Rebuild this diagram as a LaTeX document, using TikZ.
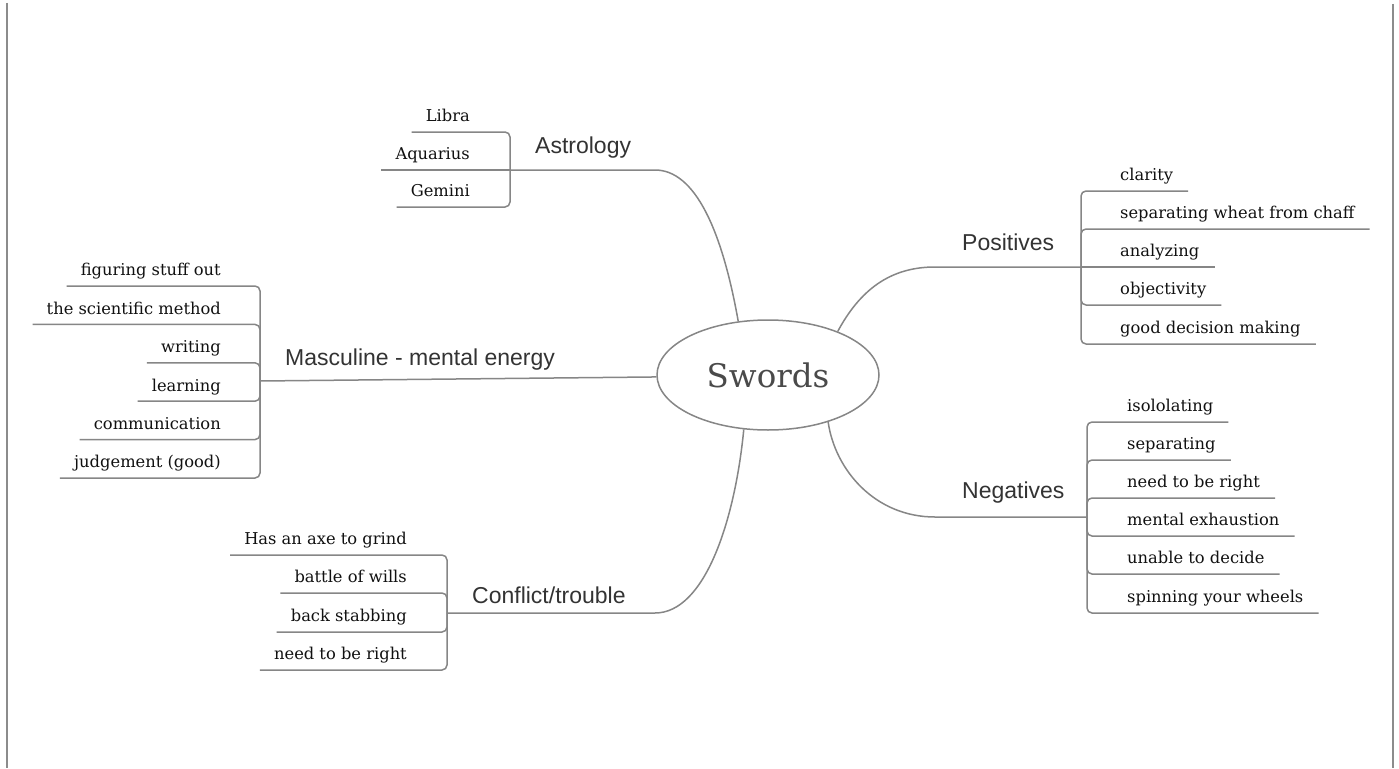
\documentclass[tikz,border=0pt]{standalone}
\usepackage{fontspec}
\setmainfont{DejaVu Serif}
\newfontfamily\branchfont{Liberation Sans}
\usetikzlibrary{shapes.geometric}
\definecolor{linegray}{HTML}{868686}
\definecolor{framegray}{HTML}{8C8C8C}
\definecolor{leaftext}{HTML}{111111}
\definecolor{branchtext}{HTML}{333333}
\definecolor{centertext}{HTML}{4A4A4A}
\begin{document}
\begin{tikzpicture}[x=1pt,y=-1pt,
  conn/.style={draw=linegray, line width=1.5pt},
  leafconn/.style={conn, rounded corners=5pt},
  leafbase/.style={inner ysep=6pt, text depth=4pt, text height=12pt, font=\fontsize{16.3}{18}\selectfont, text=leaftext},
  leafL/.style={leafbase, anchor=south east, inner xsep=14pt},
  leafR/.style={leafbase, anchor=south west, inner xsep=15pt},
  branch/.style={anchor=base west, inner sep=0pt, font=\branchfont\fontsize{23}{26}\selectfont, text=branchtext},
  framel/.style={draw=framegray, line width=1.3pt}
]
\useasboundingbox[fill=white] (0,0) rectangle (1399,768);
\draw[framel] (7,3) -- (7,768);
\draw[framel] (1393,4) -- (1393,768);

% centre
\node[ellipse, draw=linegray, line width=1.5pt, minimum width=222pt, minimum height=110pt, inner sep=0pt,
      font=\fontsize{32.5}{36}\selectfont, text=centertext] (E) at (768,375) {Swords};

% junctions
\coordinate (A) at (510,170);
\coordinate (M) at (260,381);
\coordinate (P) at (1081,267);
\coordinate (N) at (1087,517);
\coordinate (C) at (447,613);

% branch labels
\node[branch] (bA) at (535,153) {Astrology};
\node[branch] (bM) at (285,365) {Masculine - mental energy};
\node[branch] (bP) at (962,250) {Positives};
\node[branch] (bN) at (962,498) {Negatives};
\node[branch] (bC) at (472,603) {Conflict/trouble};

% main connectors
\draw[conn] (E.119) .. controls (722,230) and (695,170) .. (655,170) -- (A);
\draw[conn] (E.181) -- (M);
\draw[conn] (E.32) .. controls (860,290) and (890,267) .. (935,267) -- (P);
\draw[conn] (E.-38.5) .. controls (835,470) and (875,517) .. (935,517) -- (N);
\draw[conn] (E.-114) .. controls (735,520) and (705,613) .. (655,613) -- (C);

% Astrology leaves
\node[leafL] (a1) at (484,132) {Libra};
\node[leafL] (a2) at (484,170) {Aquarius};
\node[leafL] (a3) at (484,207) {Gemini};
\draw[leafconn] (A) |- (a1.south east) -- (a1.south west);
\draw[leafconn] (A) -- (a2.south east) -- (a2.south west);
\draw[leafconn] (A) |- (a3.south east) -- (a3.south west);

% Masculine leaves
\node[leafL] (m1) at (235,286) {figuring stuff out};
\node[leafL] (m2) at (235,324.4) {the scientific method};
\node[leafL] (m3) at (235,362.8) {writing};
\node[leafL] (m4) at (235,401.2) {learning};
\node[leafL] (m5) at (235,439.6) {communication};
\node[leafL] (m6) at (235,478) {judgement (good)};
\foreach \n in {m1,m2,m3,m4,m5,m6}
  \draw[leafconn] (M) |- (\n.south east) -- (\n.south west);

% Positives leaves
\node[leafR] (p1) at (1105,191) {clarity};
\node[leafR] (p2) at (1105,229) {separating wheat from chaff};
\node[leafR] (p3) at (1105,267) {analyzing};
\node[leafR] (p4) at (1105,305) {objectivity};
\node[leafR] (p5) at (1105,344) {good decision making};
\foreach \n in {p1,p2,p4,p5}
  \draw[leafconn] (P) |- (\n.south west) -- (\n.south east);
\draw[leafconn] (P) -- (p3.south west) -- (p3.south east);

% Negatives leaves
\node[leafR] (n1) at (1112,422) {isololating};
\node[leafR] (n2) at (1112,460) {separating};
\node[leafR] (n3) at (1112,498) {need to be right};
\node[leafR] (n4) at (1112,536) {mental exhaustion};
\node[leafR] (n5) at (1112,574) {unable to decide};
\node[leafR] (n6) at (1112,613) {spinning your wheels};
\foreach \n in {n1,n2,n3,n4,n5,n6}
  \draw[leafconn] (N) |- (\n.south west) -- (\n.south east);

% Conflict leaves
\node[leafL] (c1) at (421,555) {Has an axe to grind};
\node[leafL] (c2) at (421,593) {battle of wills};
\node[leafL] (c3) at (421,632) {back stabbing};
\node[leafL] (c4) at (421,670) {need to be right};
\foreach \n in {c1,c2,c3,c4}
  \draw[leafconn] (C) |- (\n.south east) -- (\n.south west);
\end{tikzpicture}
\end{document}
